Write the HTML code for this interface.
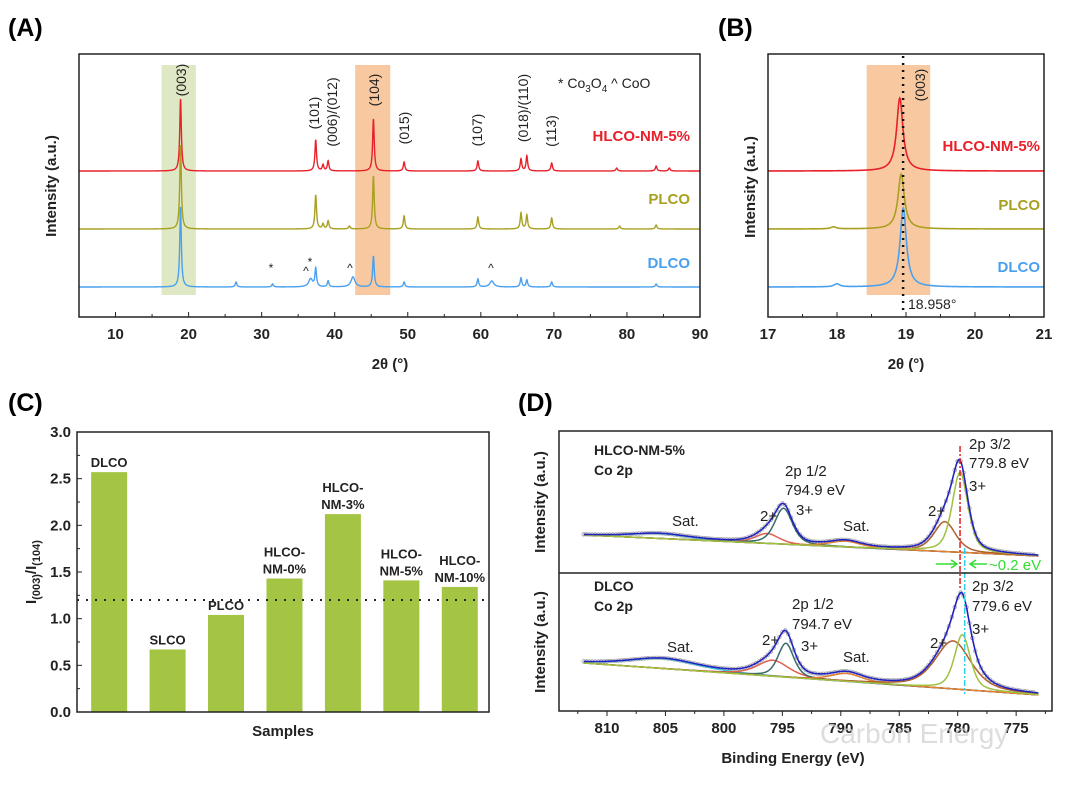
<!DOCTYPE html>
<html><head><meta charset="utf-8"><style>
html,body{margin:0;padding:0;background:#fff;}
svg{display:block;font-family:"Liberation Sans",Arial,sans-serif;}
.tk{font-size:15px;font-weight:bold;fill:#222;}
.tt{font-size:15px;font-weight:bold;fill:#222;}
.an{font-size:14px;fill:#222;}
</style></head><body>
<svg id="fig" width="1080" height="785" viewBox="0 0 1080 785" xmlns="http://www.w3.org/2000/svg">
<g id="gA"></g>
<g id="gB"></g>
<g id="gC"></g>
<g id="gD"></g>
<text x="8" y="36" font-size="25" font-weight="bold">(A)</text>
<text x="718" y="36" font-size="25" font-weight="bold">(B)</text>
<text x="8" y="411" font-size="25" font-weight="bold">(C)</text>
<text x="518" y="411" font-size="25" font-weight="bold">(D)</text>
</svg>
<script>
// ---- Panel A data ----
const aRedPos=[18.9,37.4,38.4,39.1,45.3,49.5,59.6,65.5,66.3,69.7,78.6,84.0,85.8];
const aRedH=[72,31,6,10,52,9,10,12,15,8,3,5,3];
const aYelPos=[18.9,37.4,38.4,39.1,42.0,45.3,49.5,59.6,65.5,66.3,69.7,79.0,84.0];
const aYelH=[84,34,5,8,3,53,13,12,16,14,11,3,4];
const aBluPos=[18.9,26.5,31.5,36.7,37.4,39.1,42.5,45.3,49.5,59.6,61.5,65.5,66.3,69.7,84.0];
const aBluH=[80,5,3,8,18,6,10,31,5,8,6,9,7,5,3];
const aXTicks=[10,20,30,40,50,60,70,80,90];
// ---- Panel B data ----
const bRedPos=[18.91], bRedH=[73];
const bYelPos=[18.93,17.95], bYelH=[55,2];
const bBluPos=[18.96,18.0], bBluH=[79,3];
const bXTicks=[17,18,19,20,21];
// ---- Panel C data ----
const cCats=["DLCO","SLCO","PLCO","HLCO-NM-0%","HLCO-NM-3%","HLCO-NM-5%","HLCO-NM-10%"];
const cVals=[2.57,0.67,1.04,1.43,2.12,1.41,1.34];
const cYTicks=[0.0,0.5,1.0,1.5,2.0,2.5,3.0];
const cRef=1.2;
// ---- Panel D data ----
const dXTicks=[810,805,800,795,790,785,780,775];
const dTopCenters=[805.5,796.3,794.9,789.6,781.1,779.8];
const dTopHeights=[5,10,36,6,30,80];
const dTopWidths=[3.0,1.2,0.9,1.6,1.1,0.8];
const dBotCenters=[805.2,795.8,794.7,789.5,780.4,779.6];
const dBotHeights=[10,16,34,8,48,55];
const dBotWidths=[3.5,1.6,0.8,1.6,1.8,0.8];

const NS="http://www.w3.org/2000/svg";
function mk(p,tag,at,txt){const e=document.createElementNS(NS,tag);for(const k in at)e.setAttribute(k,at[k]);if(txt!==undefined)e.textContent=txt;p.appendChild(e);return e;}
function lor(x,c,w){return 1/(1+((x-c)/w)**2);}

// ===== Panel A =====
const gA=document.getElementById('gA');
const axL=79,axR=700,axT=54,axB=317;
const xA=v=>axL+(v-5)/(90-5)*(axR-axL);
let r=mk(gA,'rect',{x:xA(16.3),y:65,width:xA(21)-xA(16.3),height:230,fill:'#dfe8c4'});

r=mk(gA,'rect',{x:xA(42.8),y:65,width:xA(47.6)-xA(42.8),height:230,fill:'#f8c9a0'});

function traceA(pos,h,base,col,name,g,xf,x0,x1,w,step){
  let d='';for(let x=x0;x<=x1+1e-9;x+=step){let y=0;for(let i=0;i<pos.length;i++){const ww=(Math.abs(pos[i]-36.7)<0.01||Math.abs(pos[i]-42.5)<0.01||Math.abs(pos[i]-61.5)<0.01)?w*2.5:w;y+=h[i]*lor(x,pos[i],ww);}d+=(d?'L':'M')+xf(x).toFixed(2)+','+(base-y).toFixed(2);}
  const p=mk(g,'path',{d:d,fill:'none',stroke:col,'stroke-width':1.4});
  
}
traceA(aRedPos,aRedH,171,'#e8202a','trace-hlco-nm-5',gA,xA,5,90,0.13,0.02);
traceA(aYelPos,aYelH,229,'#a8a020','trace-plco',gA,xA,5,90,0.13,0.02);
traceA(aBluPos,aBluH,287,'#4aa0ee','trace-dlco',gA,xA,5,90,0.13,0.02);
r=mk(gA,'rect',{x:axL,y:axT,width:axR-axL,height:axB-axT,fill:'none',stroke:'#222','stroke-width':1.5});

for(let v=5;v<=90;v+=5){const x=xA(v);mk(gA,'line',{x1:x,x2:x,y1:axB,y2:axB-(v%10===0?5:3),stroke:'#222','stroke-width':1});}
aXTicks.forEach(v=>{const t=mk(gA,'text',{x:xA(v),y:339,'text-anchor':'middle',class:'tk'},v);});
let t=mk(gA,'text',{x:390,y:369,'text-anchor':'middle',class:'tt'},'2θ (°)');
t=mk(gA,'text',{x:0,y:0,transform:'translate(56,186) rotate(-90)','text-anchor':'middle',class:'tt'},'Intensity (a.u.)');
[['(003)',181,80],['(101)',314,113],['(006)/(012)',332,112],['(104)',374,90],['(015)',404,128],['(107)',477,130],['(018)/(110)',523,108],['(113)',551,131]].forEach(a=>{
  const e=mk(gA,'text',{x:0,y:0,transform:`translate(${a[1]+5},${a[2]}) rotate(-90)`,'text-anchor':'middle',class:'an'},a[0]);
  });
t=mk(gA,'text',{x:558,y:88,class:'an'});
t.innerHTML='* Co<tspan font-size="10" dy="4">3</tspan><tspan dy="-4">O</tspan><tspan font-size="10" dy="4">4</tspan><tspan dy="-4">  ^ CoO</tspan>';
[['HLCO-NM-5%','#e8202a',141],['PLCO','#a8a020',204],['DLCO','#4aa0ee',268]].forEach(s=>{const e=mk(gA,'text',{x:690,y:s[2],'text-anchor':'end','font-size':15,'font-weight':'bold',fill:s[1]},s[0]);});
[['*',271,272],['^',306,275],['*',310,266],['^',350,272],['^',491,272]].forEach(s=>{const e=mk(gA,'text',{x:s[1],y:s[2],'text-anchor':'middle','font-size':12,fill:'#222'},s[0]);});

// ===== Panel B =====
const gB=document.getElementById('gB');
const bL=768,bR=1044;
const xB=v=>bL+(v-17)/4*(bR-bL);
r=mk(gB,'rect',{x:xB(18.43),y:65,width:xB(19.35)-xB(18.43),height:230,fill:'#f8c9a0'});

function traceB(pos,h,base,col,name){let d='';for(let x=17;x<=21.0001;x+=0.005){let y=0;for(let i=0;i<pos.length;i++){y+=h[i]*(i===0?lor(x,pos[i],0.055):lor(x,pos[i],0.05));}d+=(d?'L':'M')+xB(x).toFixed(2)+','+(base-y).toFixed(2);}
  const p=mk(gB,'path',{d:d,fill:'none',stroke:col,'stroke-width':1.6});}
traceB(bRedPos,bRedH,171,'#e8202a','trace-hlco-nm-5-b');
traceB(bYelPos,bYelH,229,'#a8a020','trace-plco-b');
traceB(bBluPos,bBluH,287,'#4aa0ee','trace-dlco-b');
let l=mk(gB,'line',{x1:xB(18.958),x2:xB(18.958),y1:56,y2:315,stroke:'#111','stroke-width':2.5,'stroke-dasharray':'2,5'});

r=mk(gB,'rect',{x:bL,y:axT,width:bR-bL,height:axB-axT,fill:'none',stroke:'#222','stroke-width':1.5});

for(let v=17;v<=21;v+=0.5){const x=xB(v);mk(gB,'line',{x1:x,x2:x,y1:axB,y2:axB-(v%1===0?5:3),stroke:'#222'});}
bXTicks.forEach(v=>{const e=mk(gB,'text',{x:xB(v),y:339,'text-anchor':'middle',class:'tk'},v);});
t=mk(gB,'text',{x:906,y:369,'text-anchor':'middle',class:'tt'},'2θ (°)');
t=mk(gB,'text',{x:0,y:0,transform:'translate(755,187) rotate(-90)','text-anchor':'middle',class:'tt'},'Intensity (a.u.)');
t=mk(gB,'text',{x:0,y:0,transform:'translate(925,85) rotate(-90)','text-anchor':'middle',class:'an'},'(003)');
t=mk(gB,'text',{x:908,y:309,class:'an'},'18.958°');
[['HLCO-NM-5%','#e8202a',151],['PLCO','#a8a020',210],['DLCO','#4aa0ee',272]].forEach(s=>{const e=mk(gB,'text',{x:1040,y:s[2],'text-anchor':'end','font-size':15,'font-weight':'bold',fill:s[1]},s[0]);});

// ===== Panel C =====
const gC=document.getElementById('gC');
const cL=77,cR=489,cT=432,cB=712;
const yC=v=>cB-v/3*(cB-cT);
const xC=i=>cL+(i+1-0.45)/(7.5-0.45)*(cR-cL);
const bw=36;
cVals.forEach((v,i)=>{const b=mk(gC,'rect',{x:xC(i)-bw/2,y:yC(v),width:bw,height:cB-yC(v),fill:'#a4c444'});
  const parts=cCats[i].startsWith('HLCO')?['HLCO-',cCats[i].slice(5)]:[cCats[i]];
  parts.forEach((p,k)=>{const e=mk(gC,'text',{x:xC(i),y:yC(v)-5-(parts.length-1-k)*17,'text-anchor':'middle','font-size':13,'font-weight':'bold',fill:'#222'},p);});});
l=mk(gC,'line',{x1:cL,x2:cR,y1:yC(cRef),y2:yC(cRef),stroke:'#222','stroke-width':2,'stroke-dasharray':'2,7'});

r=mk(gC,'rect',{x:cL,y:cT,width:cR-cL,height:cB-cT,fill:'none',stroke:'#222','stroke-width':1.5});

for(let v=0;v<=3.001;v+=0.25){mk(gC,'line',{x1:cL,x2:cL+(Math.abs(v*2-Math.round(v*2))<0.01?5:3),y1:yC(v),y2:yC(v),stroke:'#222'});}
cYTicks.forEach(v=>{const e=mk(gC,'text',{x:71,y:yC(v)+5,'text-anchor':'end',class:'tk'},v.toFixed(1));});
t=mk(gC,'text',{x:283,y:736,'text-anchor':'middle',class:'tt'},'Samples');
t=mk(gC,'text',{x:0,y:0,transform:'translate(36,572) rotate(-90)','text-anchor':'middle',class:'tt'});
t.innerHTML='I<tspan font-size="11" dy="4">(003)</tspan><tspan dy="-4">/I</tspan><tspan font-size="11" dy="4">(104)</tspan>';

// ===== Panel D =====
const gD=document.getElementById('gD');
const dL=559,dR=1052,dT=431,dM=573,dB=711;
const xD=E=>607+(810-E)*11.69;
const compColsTop=['#40c0d0','#e06050','#3a6b6b','#e08030','#b06030','#a0c040'];
function xpsPanel(cen,hgt,wid,b0,b1,tag){
  const base=E=>b0+(812-E)/(812-773)*(b1-b0);
  const comp=(E,i)=>hgt[i]*(0.5*lor(E,cen[i],wid[i])+0.5*Math.exp(-Math.LN2*((E-cen[i])/wid[i])**2));
  const env=E=>{let s=0;for(let i=0;i<cen.length;i++)s+=comp(E,i);return s;};
  for(let E=812;E>=773.5;E-=0.25){mk(gD,'circle',{cx:xD(E),cy:base(E)-env(E),r:1.8,fill:'none',stroke:'#9a9a9a','stroke-width':0.7});}
  let d='';for(let E=812;E>=773;E-=0.1){d+=(d?'L':'M')+xD(E).toFixed(1)+','+base(E).toFixed(1);}
  let p=mk(gD,'path',{d:d,fill:'none',stroke:'#8a80c8','stroke-width':1.5});
  cen.forEach((c,i)=>{let d='';for(let E=812;E>=773;E-=0.1){const v=comp(E,i);d+=(d?'L':'M')+xD(E).toFixed(1)+','+(base(E)-v).toFixed(1);}
    const q=mk(gD,'path',{d:d,fill:'none',stroke:compColsTop[i],'stroke-width':1.5});});
  d='';for(let E=812;E>=773;E-=0.1){d+=(d?'L':'M')+xD(E).toFixed(1)+','+(base(E)-env(E)).toFixed(1);}
  p=mk(gD,'path',{d:d,fill:'none',stroke:'#2222c0','stroke-width':1.6});
}
xpsPanel(dTopCenters,dTopHeights,dTopWidths,535,556,'hlco');
xpsPanel(dBotCenters,dBotHeights,dBotWidths,663,695,'dlco');
l=mk(gD,'line',{x1:xD(779.8),x2:xD(779.8),y1:446,y2:588,stroke:'#e02020','stroke-width':1.5,'stroke-dasharray':'6,2,2,2'});
l=mk(gD,'line',{x1:xD(779.4),x2:xD(779.4),y1:548,y2:694,stroke:'#30d0e8','stroke-width':1.5,'stroke-dasharray':'6,2,2,2'});
mk(gD,'line',{x1:dL,x2:dR,y1:dM,y2:dM,stroke:'#222','stroke-width':1.5});
r=mk(gD,'rect',{x:dL,y:dT,width:dR-dL,height:dB-dT,fill:'none',stroke:'#222','stroke-width':1.5});
for(let E=812.5;E>=772.5;E-=2.5){const x=xD(E);if(x<dL||x>dR)continue;mk(gD,'line',{x1:x,x2:x,y1:dB,y2:dB+(E%5===0?5:3),stroke:'#222'});}
dXTicks.forEach(v=>{const e=mk(gD,'text',{x:xD(v),y:733,'text-anchor':'middle',class:'tk'},v);});
t=mk(gD,'text',{x:793,y:763,'text-anchor':'middle',class:'tt'},'Binding Energy (eV)');
[[502,'y-axis-title-d-top'],[642,'y-axis-title-d-bottom']].forEach(a=>{const e=mk(gD,'text',{x:0,y:0,transform:`translate(545,${a[0]}) rotate(-90)`,'text-anchor':'middle',class:'tt'},'Intensity (a.u.)');});
[['HLCO-NM-5%',594,455,1],['Co 2p',594,475,1],['2p 1/2',785,476,0],['794.9 eV',785,495,0],['2p 3/2',969,449,0],['779.8 eV',969,468,0],['3+',969,491,0],['2+',928,516,0],['2+',760,521,0],['3+',796,515,0],['Sat.',672,526,0],['Sat.',843,531,0],
 ['DLCO',594,591,1],['Co 2p',594,611,1],['2p 1/2',792,609,0],['794.7 eV',792,629,0],['2p 3/2',972,591,0],['779.6 eV',972,611,0],['3+',972,634,0],['2+',930,648,0],['2+',762,645,0],['3+',801,651,0],['Sat.',667,652,0],['Sat.',843,662,0]].forEach(a=>{
  const e=mk(gD,'text',{x:a[1],y:a[2],'font-size':a[3]?14:15,'font-weight':a[3]?'bold':'normal',fill:'#222'},a[0]);});
t=mk(gD,'text',{x:989,y:570,'font-size':15,fill:'#33dd33'},'~0.2 eV');
mk(gD,'path',{d:'M936,564 L957,564 M951,560 L957,564 L951,568 M987,564 L970,564 M976,560 L970,564 L976,568',stroke:'#33dd33','stroke-width':1.5,fill:'none'});
t=mk(gD,'text',{x:820,y:743,'font-size':28,fill:'#cfcfcf','fill-opacity':0.7},'Carbon Energy');
</script>
</body></html>
